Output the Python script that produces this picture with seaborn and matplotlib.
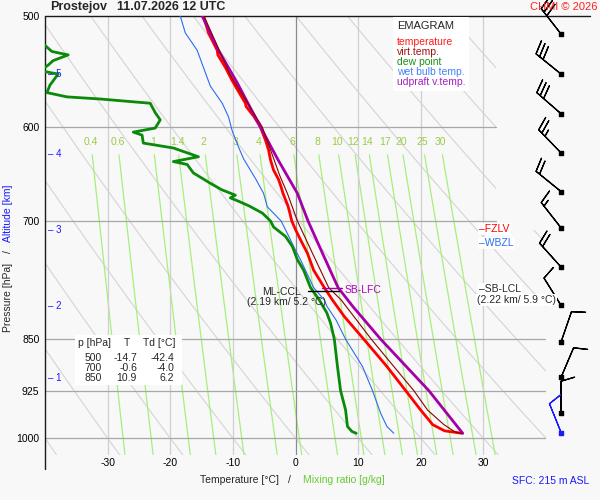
import numpy as np
import matplotlib
matplotlib.use('Agg')
import matplotlib.pyplot as plt
import seaborn as sns
from matplotlib.patches import Polygon, Rectangle

# sounding values (pressure in hPa, temperature in degC)
temp_p = [500, 514, 529, 533, 544, 556, 565, 574, 577, 580, 590, 600, 613, 623, 633, 644, 654,
          662, 669, 683, 691, 700, 710, 722, 738, 759, 781, 797, 819, 850, 889, 925, 955, 978,
          988, 992]
temp_t = [-14.7, -13.9, -12.5, -12.4, -11.2, -10.1, -9.2, -8.3, -8.0, -7.9, -6.6, -5.6, -4.8,
          -4.3, -4.0, -3.5, -2.7, -2.3, -2.0, -1.2, -0.9, -0.6, 0.0, 0.8, 1.9, 2.9, 4.6, 5.9,
          7.8, 10.9, 14.6, 17.6, 20.0, 21.9, 23.8, 26.6]

virt_p = [500, 550, 600, 650, 669, 700, 738, 781, 797, 850, 889, 925, 955, 978, 990, 992]
virt_t = [-14.6, -10.5, -5.3, -2.5, -1.3, 0.3, 2.7, 5.3, 7.3, 12.1, 15.7, 18.9, 21.1, 23.7,
          25.5, 26.5]

dew_p = [500, 520, 530, 533, 538, 542, 547, 550, 560, 567, 571, 573, 577, 586, 593, 601, 605,
         608, 616, 621, 630, 635, 638, 647, 658, 665, 671, 674, 678, 683, 691, 700, 707, 718,
         730, 746, 759, 781, 797, 814, 828, 850, 889, 925, 955, 981, 989, 992]
dew_t = [-42.4, -41.0, -38.9, -36.3, -38.7, -39.5, -40.8, -37.9, -39.2, -39.7, -36.5, -31.2,
         -23.2, -22.4, -21.6, -22.4, -25.9, -24.5, -24.3, -19.5, -15.5, -19.5, -17.3, -16.3,
         -13.6, -11.8, -9.6, -10.4, -9.0, -7.4, -5.3, -4.0, -3.5, -1.6, -0.5, 0.3, 1.3, 2.4,
         3.8, 5.0, 5.6, 6.2, 6.7, 7.2, 8.0, 8.3, 9.0, 9.7]

wet_p = [500, 514, 529, 544, 561, 577, 590, 604, 620, 632, 654, 669, 684, 700, 722, 730, 746,
         781, 797, 805, 824, 850, 889, 925, 960, 981, 992]
wet_t = [-18.4, -17.6, -15.7, -14.7, -13.6, -11.7, -10.7, -10.1, -9.1, -8.3, -6.3, -5.1, -4.5,
         -2.3, -0.8, -0.3, 0.8, 2.9, 4.6, 5.0, 6.5, 8.0, 10.7, 12.3, 13.6, 14.6, 15.7]

upd_p = [500, 529, 558, 600, 633, 669, 700, 738, 781, 805, 850, 925, 992]
upd_t = [-14.9, -12.3, -9.3, -5.6, -2.8, 0.3, 2.0, 4.3, 6.8, 9.1, 13.6, 21.3, 26.7]

# table in the lower left
table_p = [500, 700, 850]
table_t = [-14.7, -0.6, 10.9]
table_td = [-42.4, -4.0, 6.2]

# wind barbs (pressure, direction deg, speed kt)
wind_p = [515, 550, 587, 626, 667, 708, 755, 804, 854, 905, 960, 992]
wind_dir = [322, 309, 311, 316, 309, 322, 318, 328, 19, 23, 360, 338]
wind_spd = [30, 30, 30, 25, 20, 15, 20, 10, 10, 10, 10, 10]

# altitude marks on the left
alt_km = [1, 2, 3, 4, 5]
alt_p = [906, 805, 711, 627, 550]

# background line families
mix_ratios = [0.4, 0.6, 1, 1.4, 2, 3, 4, 6, 8, 10, 12, 14, 17, 20, 25, 30]
theta_c = list(range(-40, 120, 10))
p_ticks = [500, 600, 700, 850, 925, 1000]
t_ticks = [-30, -20, -10, 0, 10, 20, 30]

sns.set_theme(style='white')
plt.rcParams['font.family'] = ['Liberation Sans', 'DejaVu Sans']

bg = '#f8f8f8'
fig = plt.figure(figsize=(6, 5), dpi=100, facecolor=bg)
ax = fig.add_axes([45 / 600, 1 - 455 / 500, 501 / 600, 439 / 500])
ax.set_facecolor(bg)
ax.set_yscale('log')
ax.set_xlim(-40, 40)
ax.set_ylim(1028, 500)
for s in ax.spines.values():
    s.set_visible(False)


def fpos(x, y):
    return x / 600, 1 - y / 500


# region where the adiabats are drawn
clip = Polygon([(-40, 500), (32, 500), (32, 710), (40, 710), (40, 1028), (-40, 1028)],
               closed=True, transform=ax.transData)

pp = np.geomspace(500, 1028, 80)
for th in theta_c:
    tt = (th + 273.15) * (pp / 1000) ** 0.286 - 273.15
    ln, = ax.plot(tt, pp, color='#d4d4d4', lw=0.8, zorder=1)
    ln.set_clip_path(clip)

# mixing ratio lines
pm = np.geomspace(628, 1028, 40)
for w in mix_ratios:
    e = w * pm / (622 + w)
    a = np.log(e / 6.112)
    td = 243.5 * a / (17.67 - a)
    ax.plot(td, pm, color='#a6f07a', lw=0.9, zorder=1.2)
    e0 = w * 615 / (622 + w)
    a0 = np.log(e0 / 6.112)
    ax.text(243.5 * a0 / (17.67 - a0), 615, f'{w:g}', color='#9ccc45', fontsize=7.5,
            ha='center', va='center')

# grid
for t in t_ticks:
    ax.axvline(t, color='#8c8c8c' if t == 0 else '#d0d0d0', lw=0.9, zorder=1.5)
for p in p_ticks[1:]:
    ax.axhline(p, xmax=0.9 if p < 800 else 1.0, color='#a8a8a8', lw=0.9, zorder=1.5)

ax.plot([0, 545 / 501], [1, 1], transform=ax.transAxes, color='k', lw=1, clip_on=False)
ax.plot([0, 0], [1, -14 / 439], transform=ax.transAxes, color='k', lw=1, clip_on=False)

# profiles
sns.lineplot(x=wet_t, y=wet_p, sort=False, estimator=None, color='#2a6cf0', lw=0.8, ax=ax,
             zorder=3)
sns.lineplot(x=dew_t, y=dew_p, sort=False, estimator=None, color='#0a8a0a', lw=2.0, ax=ax,
             zorder=3)
sns.lineplot(x=temp_t, y=temp_p, sort=False, estimator=None, color='#ff0000', lw=2.0, ax=ax,
             zorder=4)
sns.lineplot(x=virt_t, y=virt_p, sort=False, estimator=None, color='#8b0000', lw=0.8, ax=ax,
             zorder=5)
sns.lineplot(x=upd_t, y=upd_p, sort=False, estimator=None, color='#a400a8', lw=2.0, ax=ax,
             zorder=4.5)

# ticks
ax.set_yticks(p_ticks)
ax.set_yticklabels([str(p) for p in p_ticks])
ax.yaxis.set_minor_locator(matplotlib.ticker.NullLocator())
ax.set_xticks(t_ticks)
ax.set_xticklabels([str(t) for t in t_ticks])
ax.tick_params(axis='both', length=0, labelsize=7.5, colors='black')
ax.tick_params(axis='y', pad=4)
ax.tick_params(axis='x', pad=2)
ax.set_xlabel('')
ax.set_ylabel('')

# altitude marks
for km, p in zip(alt_km, alt_p):
    ax.text(-39.6, p, f'– {km}', color='#1a1aff', fontsize=7, va='center', ha='left')

# wind barbs
rad = np.deg2rad(wind_dir)
u = -np.array(wind_spd) * np.sin(rad)
v = -np.array(wind_spd) * np.cos(rad)
bx = np.full(len(wind_p), 42.4)
bsizes = dict(spacing=0.14, height=0.42)
ax.barbs(bx[:-1], wind_p[:-1], u[:-1], v[:-1], length=6.8, color='black', lw=0.9,
         sizes=bsizes, clip_on=False, zorder=6)
ax.barbs(bx[-1:], wind_p[-1:], u[-1:], v[-1:], length=6.8, color='#1a1aff', lw=0.9,
         sizes=bsizes, clip_on=False, zorder=6)
ax.scatter(bx[:-1], wind_p[:-1], marker='s', s=6, color='black', clip_on=False, zorder=7)
ax.scatter(bx[-1:], wind_p[-1:], marker='s', s=6, color='#1a1aff', clip_on=False, zorder=7)

# level markers
ax.plot([2.0, 7.0], [785, 785], color='black', lw=1, zorder=6)
ax.plot([4.3, 7.5], [782, 782], color='#a400a8', lw=1, zorder=6)
fig.text(*fpos(262, 292), 'ML-CCL', fontsize=7.5, va='center')
fig.text(*fpos(247, 302), '(2.19 km/ 5.2 °C)', fontsize=7.5, va='center')
fig.text(*fpos(345, 290), 'SB-LFC', fontsize=7.5, va='center', color='#b000c0')
box = dict(facecolor='white', edgecolor='none', pad=1)
fig.text(*fpos(479, 229), '–FZLV', fontsize=7.5, va='center', color='#ff0000', bbox=box,
         zorder=3)
fig.text(*fpos(479, 243), '–WBZL', fontsize=7.5, va='center', color='#2a6cf0', bbox=box,
         zorder=3)
fig.text(*fpos(479, 289), '–SB-LCL', fontsize=7.5, va='center', bbox=box, zorder=3)
fig.text(*fpos(477, 300), '(2.22 km/ 5.9 °C)', fontsize=7.5, va='center', bbox=box, zorder=3)

# legend box
fig.add_artist(Rectangle(fpos(393, 91), 76 / 600, 74 / 500, transform=fig.transFigure,
                         facecolor='white', edgecolor='none', zorder=2))
fig.text(*fpos(397, 26), 'EMAGRAM', fontsize=8, va='center', zorder=3)
legend_items = [('temperature', '#ff1a1a'), ('virt.temp.', '#a01010'),
                ('dew point', '#1a901a'), ('wet bulb temp.', '#4080ff'),
                ('udpraft v.temp.', '#a020c0')]
for i, (lab, col) in enumerate(legend_items):
    fig.text(*fpos(397, 42 + 10 * i), lab, fontsize=7.5, color=col, va='center', zorder=3)

# table
fig.add_artist(Rectangle(fpos(75, 385), 107 / 600, 50 / 500, transform=fig.transFigure,
                         facecolor='white', edgecolor='none', zorder=2))
fig.text(*fpos(78, 343), 'p [hPa]', fontsize=7.5, va='center', zorder=3)
fig.text(*fpos(127, 343), 'T', fontsize=7.5, va='center', ha='center', zorder=3)
fig.text(*fpos(143, 343), 'Td [°C]', fontsize=7.5, va='center', zorder=3)
for i, (p, t, td) in enumerate(zip(table_p, table_t, table_td)):
    y = 358 + 10 * i
    fig.text(*fpos(102, y), f'{p}', fontsize=7.5, va='center', ha='right', zorder=3)
    fig.text(*fpos(137, y), f'{t:.1f}', fontsize=7.5, va='center', ha='right', zorder=3)
    fig.text(*fpos(174, y), f'{td:.1f}', fontsize=7.5, va='center', ha='right', zorder=3)

# titles and axis labels
fig.text(*fpos(50, 7), 'Prostejov', fontsize=9, weight='bold', va='center')
fig.text(*fpos(117, 7), '11.07.2026 12 UTC', fontsize=9, weight='bold', va='center')
fig.text(*fpos(597, 7), 'CHMI © 2026', fontsize=8, color='#ff2020', va='center', ha='right')
fig.text(*fpos(239, 480), 'Temperature [°C]', fontsize=7.5, va='center', ha='center')
fig.text(*fpos(289, 480), '/', fontsize=7.5, va='center', ha='center')
fig.text(*fpos(344, 480), 'Mixing ratio [g/kg]', fontsize=7.5, va='center', ha='center',
         color='#66cc33')
fig.text(*fpos(551, 481), 'SFC: 215 m ASL', fontsize=7.5, va='center', ha='center',
         color='#1a1aff')
fig.text(*fpos(8, 297), 'Pressure [hPa]', fontsize=7.5, va='center', ha='center', rotation=90)
fig.text(*fpos(8, 252), '/', fontsize=7.5, va='center', ha='center', rotation=90)
fig.text(*fpos(8, 213), 'Altitude [km]', fontsize=7.5, va='center', ha='center', rotation=90,
         color='#1a1aff')

fig.savefig('out.png', dpi=100, facecolor=bg)
